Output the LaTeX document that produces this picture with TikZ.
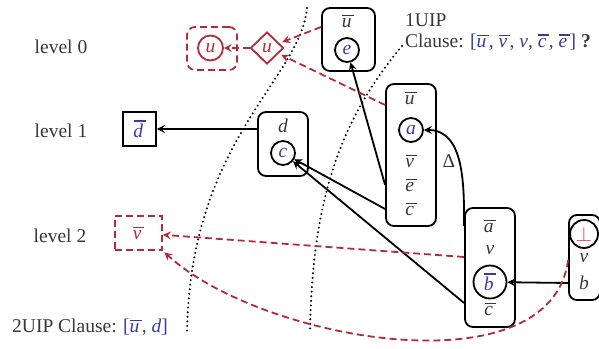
\documentclass[tikz,border=0pt]{standalone}
\usepackage{fontspec}
\setmainfont{Liberation Serif}
\usetikzlibrary{arrows.meta,shapes.geometric}
\definecolor{cred}{RGB}{180,42,56}
\definecolor{cblue}{RGB}{58,58,158}
\definecolor{cpink}{RGB}{232,52,122}
\definecolor{cgray}{RGB}{55,55,55}
% negated literal: italic letter with a bar over it
\newcommand\ovl[1]{\begingroup\setbox0\hbox{\itshape #1}%
  \vbox{\offinterlineskip\moveright 0.2pt\hbox{\vrule height 1.2pt depth 0pt width \dimexpr\wd0+2.2pt\relax}\kern 2.4pt\box0}\endgroup}
\newcommand\itl[1]{\textit{#1}}

\begin{document}
\begin{tikzpicture}[x=1pt,y=-1pt,
  font=\fontsize{19.5}{22}\selectfont, text=cgray,
  box/.style={draw=black, line width=1.8pt, rounded corners=8pt, inner sep=0pt},
  sqbox/.style={draw=black, line width=1.8pt, inner sep=0pt},
  lit/.style={circle, draw=black, line width=1.8pt, inner sep=0pt, minimum size=24pt, text=cblue},
  rlit/.style={circle, draw=cred, line width=1.8pt, inner sep=0pt, minimum size=25pt, text=cred},
  rdash/.style={draw=cred, line width=1.8pt, dash pattern=on 7pt off 4pt},
  lbl/.style={inner sep=0pt},
  tip/.style={-{Stealth[length=8pt,width=8pt,inset=3pt]}},
  imp/.style={tip, draw=black, line width=1.8pt},
  rimp/.style={tip, rdash},
  sep/.style={draw=black, line width=2.2pt, line cap=round, dash pattern=on 0pt off 4.6pt}
]
\useasboundingbox (0,0) rectangle (599,348);

% level labels
\node[lbl] (lev0) at (61,47) {level 0};
\node[lbl] (lev1) at (61,131) {level 1};
\node[lbl] (lev2) at (60,236) {level 2};

% level separators
\draw[sep] (307,8) .. controls (300,80) and (190,140) .. (187,333);
\draw[sep] (402,46) .. controls (340,120) and (312,200) .. (310,333);

% learnt clauses
\node[lbl, anchor=west] (uip1) at (405,20) {1UIP};
\node[lbl, anchor=west] (uip1c) at (405,42) {Clause: \textcolor{cblue}{[\ovl{u}, \ovl{v}, \itl{v}, \ovl{c}, \ovl{e}]} \textbf{?}};
\node[lbl, anchor=west] (uip2c) at (12,327) {2UIP Clause: \textcolor{cblue}{[\ovl{u}, \itl{d}]}};

% level 0
\node[box, draw=cred, rdash, minimum width=50pt, minimum height=43pt] (ubox) at (212,48.5) {};
\node[rlit] (cu) at (210.5,48) {\itl{u}};
\node[diamond, draw=cred, line width=1.8pt, inner sep=0pt, minimum width=33pt, minimum height=32pt, text=cred] (diam) at (267,48) {\itl{u}};

\node[box, minimum width=53pt, minimum height=63pt] (ebox) at (348.5,39.5) {};
\node[lbl] (ebu) at (348,21) {\ovl{u}};
\node[lit] (ce) at (347,50) {\itl{e}};

% level 1
\node[sqbox, minimum width=33pt, minimum height=34pt, text=cblue] (dbar) at (139.5,129) {\ovl{d}};

\node[box, minimum width=50pt, minimum height=64pt] (dbox) at (283,144) {};
\node[lbl] (dd) at (283,126) {\itl{d}};
\node[lit] (cc) at (283,153) {\itl{c}};

\node[box, minimum width=50pt, minimum height=142pt] (abox) at (411,155) {};
\node[lbl] (abU) at (411,98) {\ovl{u}};
\node[lit] (ca) at (411,130) {\itl{a}};
\node[lbl] (abV) at (411,161) {\ovl{v}};
\node[lbl] (abE) at (411,185) {\ovl{e}};
\node[lbl] (abC) at (411,209) {\ovl{c}};

% level 2
\node[sqbox, rdash, minimum width=47pt, minimum height=34pt, text=cred] (vb) at (138.5,233) {\ovl{v}};

\node[box, minimum width=50pt, minimum height=119pt] (bbox) at (490,267.5) {};
\node[lbl] (bbA) at (490,226) {\ovl{a}};
\node[lbl] (bbV) at (490,250) {\itl{v}};
\node[lit, minimum size=33pt] (cb) at (490,282) {\ovl{b}};
\node[lbl] (bbC) at (490,309) {\ovl{c}};

\node[box, minimum width=31pt, minimum height=85pt] (botbox) at (584.5,257.5) {};
\node[circle, draw=black, line width=1.8pt, inner sep=0pt, minimum size=28pt, text=cpink] (cbot) at (584,234) {$\bot$};
\node[lbl] (botV) at (584,258) {\itl{v}};
\node[lbl] (botB) at (584,283) {\itl{b}};

% implications
\draw[imp] (dbox.west |- dbar.east) -- (dbar.east);
\draw[imp] (abox.west |- abE) -- (ce);
\draw[imp] (abox.west |- abC) -- (cc);
\draw[imp] ([yshift=6pt]bbC -| bbox.west) -- (cc);
\draw[imp] (bbox.west |- bbA) to[out=90,in=0] (ca);
\node[lbl] (delta) at (449,161) {Δ};
\draw[imp] (botbox.west |- botB) -- (cb);

% conflict side
\draw[rimp, shorten >=3pt] ([yshift=-6pt]ebu -| ebox.west) -- (diam);
\draw[rimp, shorten >=3pt] ([yshift=-7pt]abU -| abox.west) -- (diam);
\draw[rimp] (diam.west) -- (cu);
\draw[rimp] ([yshift=-7pt]bbV -| bbox.west) -- (vb);
\draw[rimp, shorten >=2pt] ([yshift=-2pt]botV -| botbox.west) .. controls +(-17,132) and +(98,90) .. (vb.south east);
\end{tikzpicture}
\end{document}
